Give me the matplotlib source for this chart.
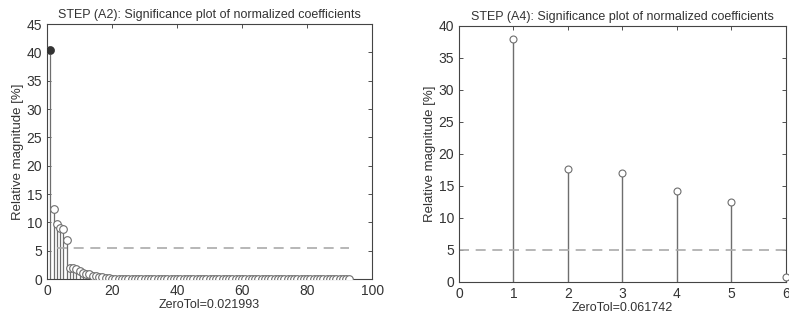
import matplotlib.pyplot as plt

# left panel: STEP (A2)
a2_index = list(range(1, 94))
a2_values = [40.5, 12.3, 9.7, 9.0, 8.9, 6.9, 1.9, 1.9, 1.8, 1.5,
             1.0, 0.9, 0.9, 0.6, 0.5, 0.4, 0.3, 0.2, 0.1] + [0.05] * 74
a2_threshold = 5.5
a2_zerotol = "ZeroTol=0.021993"

# right panel: STEP (A4)
a4_index = [1, 2, 3, 4, 5, 6]
a4_values = [38.0, 17.7, 17.0, 14.2, 12.5, 0.7]
a4_threshold = 5.0
a4_zerotol = "ZeroTol=0.061742"

plt.rcParams['font.family'] = ['Liberation Sans', 'DejaVu Sans']
gray = '#6e6e6e'
txt = '#333333'

fig = plt.figure(figsize=(7.89, 3.2), dpi=100)
ax1 = fig.add_axes([0.0596, 0.128, 0.412, 0.797])
ax2 = fig.add_axes([0.5817, 0.119, 0.4145, 0.800])


def style(ax):
    ax.tick_params(direction='in', top=True, right=True, labelsize=10,
                   colors=txt, length=3, width=0.6)
    for s in ax.spines.values():
        s.set_color('#444444')
        s.set_linewidth(0.8)


# left
ml, sl, bl = ax1.stem(a2_index, a2_values, basefmt=' ')
plt.setp(sl, color=gray, linewidth=0.9)
plt.setp(ml, marker='o', markersize=5.5, markerfacecolor='white',
         markeredgecolor=gray, markeredgewidth=0.8, zorder=3)
ax1.plot([a2_index[0]], [a2_values[0]], 'o', color='#333333', markersize=5, zorder=4)
ax1.plot([a2_index[2], a2_index[-1]], [a2_threshold] * 2, '--', color='#aaaaaa',
         linewidth=1.2, dashes=(6, 4))
ax1.set_xlim(0, 100)
ax1.set_ylim(0, 45)
ax1.set_xticks(range(0, 101, 20))
ax1.set_yticks(range(0, 46, 5))
ax1.set_title('STEP (A2): Significance plot of normalized coefficients',
              fontsize=9, color=txt, pad=4)
ax1.set_xlabel(a2_zerotol, fontsize=9, color=txt, labelpad=1)
ax1.set_ylabel('Relative magnitude [%]', fontsize=9.5, color=txt, labelpad=2)
style(ax1)

# right
mr, sr, br = ax2.stem(a4_index, a4_values, basefmt=' ')
plt.setp(sr, color=gray, linewidth=1.0)
plt.setp(mr, marker='o', markersize=5, markerfacecolor='white',
         markeredgecolor=gray, markeredgewidth=0.8, zorder=3, clip_on=False)
ax2.axhline(a4_threshold, linestyle='--', color='#aaaaaa', linewidth=1.2, dashes=(6, 4))
ax2.set_xlim(0, 6)
ax2.set_ylim(0, 40)
ax2.set_xticks(range(0, 7))
ax2.set_yticks(range(0, 41, 5))
ax2.set_title('STEP (A4): Significance plot of normalized coefficients',
              fontsize=9, color=txt, pad=4)
ax2.set_xlabel(a4_zerotol, fontsize=9, color=txt, labelpad=1)
ax2.set_ylabel('Relative magnitude [%]', fontsize=9.5, color=txt, labelpad=2)
style(ax2)

fig.savefig('out.png', dpi=100)
